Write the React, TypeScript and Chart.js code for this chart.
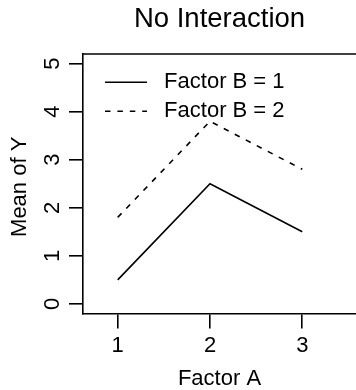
import React, { useEffect, useRef } from "react";
import { Chart, registerables } from "chart.js";

Chart.register(...registerables);

const factorA = [1, 2, 3];
const factorB1 = [0.5, 2.5, 1.5];
const factorB2 = [1.8, 3.8, 2.8];
const xTicks = [1, 2, 3];
const yTicks = [0, 1, 2, 3, 4, 5];
const seriesLabels = ["Factor B = 1", "Factor B = 2"];
const chartTitle = "No Interaction";
const xTitle = "Factor A";
const yTitle = "Mean of Y";

export default function App() {
  const ref = useRef<HTMLCanvasElement>(null);

  useEffect(() => {
    document.body.style.margin = "0";
    const canvas = ref.current;
    if (!canvas) return;
    const FONT = "'Liberation Sans', Arial, Helvetica, sans-serif";
    const LW = 1.6;

    const topLine = {
      id: "topLine",
      afterDraw(chart: any) {
        const { ctx, chartArea } = chart;
        ctx.save();
        ctx.strokeStyle = "#000";
        ctx.lineWidth = LW;
        ctx.beginPath();
        ctx.moveTo(chartArea.left - LW / 2, chartArea.top);
        ctx.lineTo(chartArea.right, chartArea.top);
        ctx.stroke();
        ctx.restore();
      },
    };

    const legendShift = {
      id: "legendShift",
      afterLayout(chart: any) {
        const lg = chart.legend;
        if (!lg) return;
        const h = lg.height;
        lg.left = chart.chartArea.left + 15;
        lg.right = lg.left + lg.width;
        lg.top = chart.chartArea.top + 10.3;
        lg.bottom = lg.top + h;
      },
    };

    const chart = new Chart(canvas, {
      type: "line",
      data: {
        datasets: [
          {
            label: " " + seriesLabels[0],
            data: factorA.map((a, i) => ({ x: a, y: factorB1[i] })),
            borderColor: "#000",
            backgroundColor: "#000",
            borderWidth: LW,
            pointRadius: 0,
            tension: 0,
            fill: false,
          },
          {
            label: " " + seriesLabels[1],
            data: factorA.map((a, i) => ({ x: a, y: factorB2[i] })),
            borderColor: "#000",
            backgroundColor: "#000",
            borderWidth: LW,
            borderDash: [5.5, 6.9],
            pointRadius: 0,
            tension: 0,
            fill: false,
          },
        ],
      },
      options: {
        responsive: false,
        animation: false,
        devicePixelRatio: 1,
        events: [],
        layout: { padding: 0 },
        plugins: {
          title: {
            display: true,
            text: chartTitle,
            fullSize: false,
            color: "#000",
            font: { family: FONT, size: 27.5, weight: "normal", lineHeight: 1 },
            padding: { top: 5.5, bottom: 21 },
          },
          legend: {
            display: true,
            position: "chartArea",
            align: "start",
            labels: {
              usePointStyle: true,
              pointStyle: "line",
              pointStyleWidth: 42,
              boxHeight: 22,
              color: "#000",
              font: { family: FONT, size: 22, lineHeight: 1 },
              padding: 7,
              generateLabels: (c: any) =>
                c.data.datasets.map((ds: any, i: number) => ({
                  text: ds.label,
                  fillStyle: "#000",
                  strokeStyle: "#000",
                  fontColor: "#000",
                  lineWidth: LW,
                  lineDash: ds.borderDash || [],
                  lineCap: "butt",
                  pointStyle: "line",
                  hidden: false,
                  datasetIndex: i,
                })),
            },
          },
          tooltip: { enabled: false },
        },
        scales: {
          x: {
            type: "linear",
            position: "bottom",
            min: 0.624,
            max: 3.582,
            afterBuildTicks: (s: any) => {
              s.ticks = xTicks.map((v) => ({ value: v }));
            },
            afterFit: (s: any) => {
              s.height = 76.5;
            },
            grid: {
              display: true,
              drawOnChartArea: false,
              drawTicks: true,
              tickLength: 15,
              color: "#000",
              lineWidth: LW,
            },
            border: { display: true, color: "#000", width: LW },
            ticks: {
              color: "#000",
              font: { family: FONT, size: 22, lineHeight: 1 },
              padding: 6.5,
              maxRotation: 0,
              minRotation: 0,
              autoSkip: false,
            },
            title: {
              display: true,
              text: xTitle,
              color: "#000",
              font: { family: FONT, size: 22, lineHeight: 1 },
              padding: { top: 0, bottom: 0 },
            },
          },
          y: {
            type: "linear",
            position: "left",
            min: -0.2,
            max: 5.2,
            afterBuildTicks: (s: any) => {
              s.ticks = yTicks.map((v) => ({ value: v }));
            },
            afterFit: (s: any) => {
              s.width = 83;
            },
            grid: {
              display: true,
              drawOnChartArea: false,
              drawTicks: true,
              tickLength: 14,
              color: "#000",
              lineWidth: LW,
            },
            border: { display: true, color: "#000", width: LW },
            ticks: {
              color: "#000",
              font: { family: FONT, size: 22, lineHeight: 1 },
              padding: 10,
              minRotation: 90,
              maxRotation: 90,
              crossAlign: "center",
              autoSkip: false,
            },
            title: {
              display: true,
              text: yTitle + " ",
              color: "#000",
              font: { family: FONT, size: 22, lineHeight: 1 },
              padding: { top: 8.5, bottom: 0 },
            },
          },
        },
      } as any,
      plugins: [topLine, legendShift],
    });

    return () => chart.destroy();
  }, []);

  return (
    <div style={{ width: 356, height: 390 }}>
      <canvas ref={ref} width={356} height={390} style={{ display: "block" }} />
    </div>
  );
}
